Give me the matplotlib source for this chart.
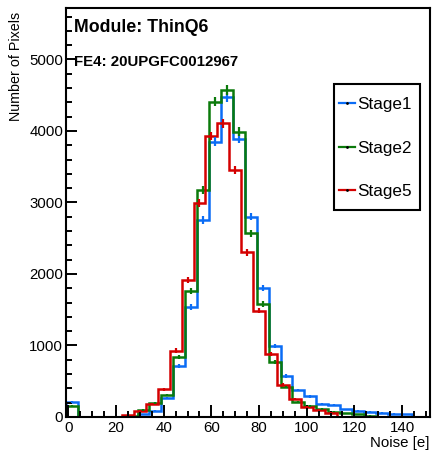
import numpy as np
import matplotlib
matplotlib.use('Agg')
import matplotlib.pyplot as plt
from matplotlib.lines import Line2D
from matplotlib.patches import Rectangle
from matplotlib.ticker import MultipleLocator

# ---------------- data ----------------
bin_width = 5.0
stage12_first_edge = -1.0
stage5_first_edge = -2.5

stage1_counts = [210, 0, 0, 0, 0, 5, 40, 84, 261, 718, 1540, 2755, 3851, 4471, 3890,
                 2802, 1800, 993, 573, 378, 288, 185, 163, 107, 88, 70, 56, 47, 37, 0, 0]
stage2_counts = [150, 0, 0, 0, 0, 15, 100, 191, 308, 844, 1767, 3175, 4410, 4573, 3990,
                 2569, 1580, 774, 420, 214, 150, 112, 75, 51, 37, 18, 0, 0, 0, 0, 0]
stage5_counts = [0, 0, 0, 0, 0, 28, 84, 177, 387, 930, 1920, 2997, 3930, 4107, 3455,
                 2303, 1487, 881, 448, 247, 136, 98, 61, 0, 0, 0, 0, 0, 0, 0, 0]

series_labels = ["Stage1", "Stage2", "Stage5"]
series_colors = ["#0a6cf5", "#0b7a0b", "#d40000"]

x_ticks = [0, 20, 40, 60, 80, 100, 120, 140]
y_ticks = [0, 1000, 2000, 3000, 4000, 5000]
x_limits = (-1.0, 151.5)
y_limits = (0, 5727)

title_text = "Module: ThinQ6"
subtitle_text = "FE4: 20UPGFC0012967"
x_label = "Noise [e]"
y_label = "Number of Pixels"

# ---------------- plot ----------------
plt.rcParams['font.family'] = ['Liberation Sans', 'DejaVu Sans']

W, H = 432, 454
fig = plt.figure(figsize=(W / 100, H / 100), dpi=100)
ax = fig.add_axes([66 / W, 37 / H, 363.5 / W, 409.5 / H])

series = [
    (stage1_counts, stage12_first_edge),
    (stage2_counts, stage12_first_edge),
    (stage5_counts, stage5_first_edge),
]

for (counts, first_edge), color in zip(series, series_colors):
    counts = np.asarray(counts, dtype=float)
    edges = first_edge + bin_width * np.arange(len(counts) + 1)
    ax.stairs(counts, edges, color=color, lw=1.8, baseline=0)
    centers = edges[:-1] + bin_width / 2
    m = counts > 0
    ax.errorbar(centers[m], counts[m], yerr=np.sqrt(counts[m]), fmt='none',
                ecolor=color, elinewidth=1.6)

ax.set_xlim(*x_limits)
ax.set_ylim(*y_limits)
ax.set_xticks(x_ticks)
ax.set_yticks(y_ticks)
ax.xaxis.set_minor_locator(MultipleLocator(5))
ax.yaxis.set_minor_locator(MultipleLocator(200))
ax.tick_params(which='both', direction='in', top=False, right=False, width=1.4,
               labelsize=10.8, color='black')
ax.tick_params(axis='x', which='major', length=9, pad=3)
ax.tick_params(axis='x', which='minor', length=4.5)
ax.tick_params(axis='y', which='major', length=8, pad=2)
ax.tick_params(axis='y', which='minor', length=4)
for sp in ax.spines.values():
    sp.set_linewidth(1.5)
    sp.set_color('black')

fig.text(74 / W, 1 - 28 / H, title_text, fontsize=12.8, fontweight='bold',
         ha='left', va='center')
fig.text(74 / W, 1 - 62 / H, subtitle_text, fontsize=10.8, fontweight='bold',
         ha='left', va='center')
fig.text(16 / W, 1 - 12 / H, y_label, rotation=90, fontsize=10.3,
         ha='center', va='top')
fig.text(430 / W, 1 - 443 / H, x_label, fontsize=10.8, ha='right', va='center')

handles = [Line2D([], [], color=c, lw=1.6, marker='.', markersize=2,
                  markerfacecolor='black', markeredgecolor='black')
           for c in series_colors]
leg = ax.legend(handles, series_labels, loc='upper left',
                bbox_to_anchor=((329 - 66) / 363.5, (417 - 87) / 409.5),
                frameon=False, fontsize=12.3, handlelength=0.9, handletextpad=0.15,
                labelspacing=1.66, borderpad=0.6, borderaxespad=0)
fig.add_artist(Rectangle((334 / W, 1 - 210 / H), 86 / W, 126 / H,
                         transform=fig.transFigure, fill=False,
                         edgecolor='black', lw=1.5))

fig.savefig('out.png', dpi=100)
